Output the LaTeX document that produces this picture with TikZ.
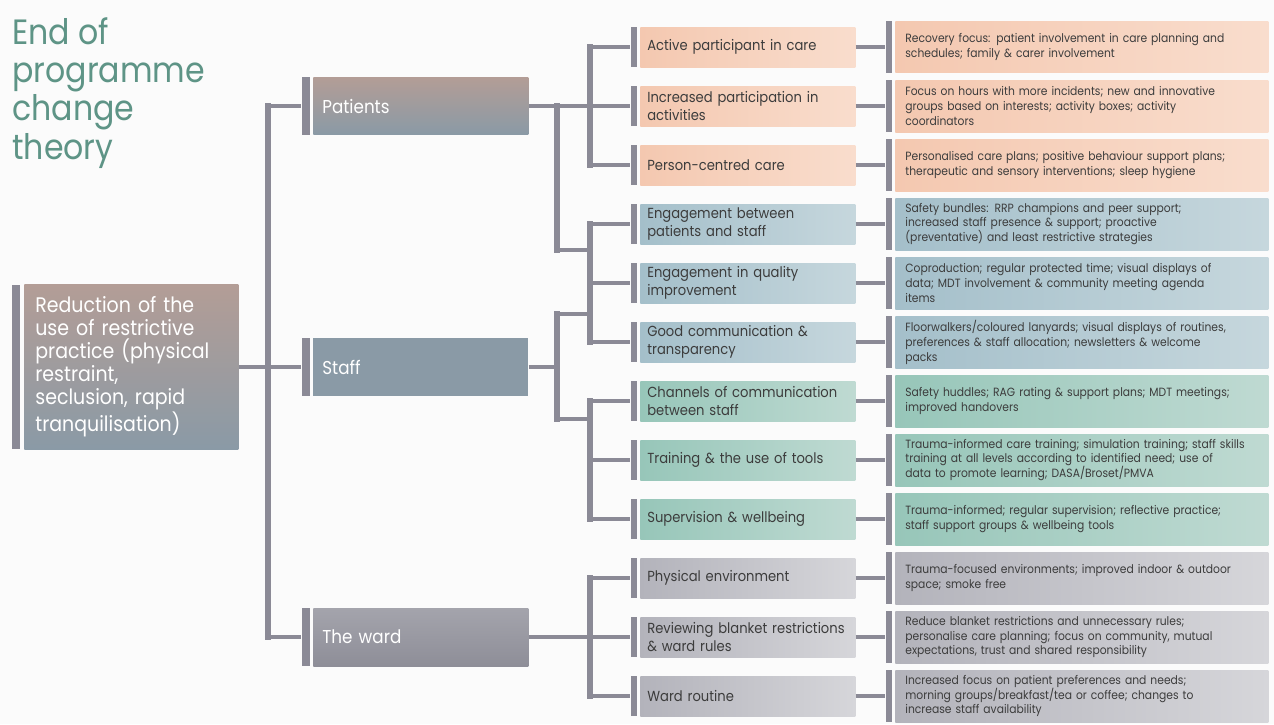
\documentclass[tikz,border=0pt]{standalone}
\usepackage{fontspec}
\setmainfont[FakeStretch=0.9]{Poppins}
\usepackage{tikz}
\usetikzlibrary{positioning}

\definecolor{linegrey}{HTML}{8B8A96}
\definecolor{titleteal}{HTML}{5E9486}
\definecolor{inktext}{HTML}{3C3C3C}
\definecolor{peachL}{HTML}{F4C8B0}
\definecolor{peachR}{HTML}{F9DDCD}
\definecolor{blueL}{HTML}{A4BFCA}
\definecolor{blueR}{HTML}{C6D7DD}
\definecolor{tealL}{HTML}{97C6B9}
\definecolor{tealR}{HTML}{BFDAD2}
\definecolor{greyL}{HTML}{B3B3BB}
\definecolor{greyR}{HTML}{D6D6DA}
\definecolor{mauveTop}{HTML}{B39D96}
\definecolor{slateBot}{HTML}{8A9AA6}
\definecolor{wardTop}{HTML}{A4A4AC}
\definecolor{wardBot}{HTML}{8E8E98}

\begin{document}
\begin{tikzpicture}[x=0.02cm, y=-0.02cm,
    hline/.style = {draw=linegrey, line width=2.2pt},
    vline/.style = {draw=linegrey, line width=3.4pt, line cap=rect},
    bar/.style = {fill=linegrey, inner sep=0pt, minimum width=0.12cm},
    bigbar/.style = {fill=linegrey, inner sep=0pt, minimum width=0.16cm},
    mainbox/.style = {anchor=west, inner xsep=0.18cm, inner ysep=0pt, minimum width=4.3cm, minimum height=1.16cm,
        text width=3.94cm, align=left, text=white, font=\fontsize{10.6}{12.5}\selectfont},
    subbox/.style = {anchor=west, inner xsep=0.14cm, inner ysep=0pt, minimum width=4.3cm, minimum height=0.8cm,
        text width=4.02cm, align=left, text=inktext, font=\fontsize{8.3}{10.2}\selectfont},
    detailbox/.style = {anchor=west, inner xsep=0.2cm, inner ysep=0pt, minimum width=7.46cm, minimum height=1.04cm,
        text width=7.06cm, align=left, text=inktext, font=\fontsize{6.8}{8.5}\selectfont},
    peach/.style = {left color=peachL, right color=peachR},
    bluish/.style = {left color=blueL, right color=blueR},
    teal/.style = {left color=tealL, right color=tealR},
    greyish/.style = {left color=greyL, right color=greyR}]

    \fill[gray!3] (0,0) rectangle (1274,724);
    \useasboundingbox (0,0) rectangle (1274,724);

    \coordinate (trunk) at (268,0);
    \coordinate (split) at (557,0);
    \coordinate (fork) at (590,0);
    \coordinate (joinP) at (590,250);
    \coordinate (joinSa) at (590,314);
    \coordinate (joinSb) at (590,419);

    % title
    \node[anchor=north west, inner sep=0pt, align=left, text=titleteal, font=\fontsize{20}{21.8}\selectfont] (Title) at (12,17)
        {End of\\programme\\change\\theory};

    % goal
    \node[anchor=west, inner xsep=0.22cm, inner ysep=0pt, minimum width=4.28cm, minimum height=3.3cm, text width=3.84cm,
        align=left, text=white, font=\fontsize{12}{13.1}\selectfont, top color=mauveTop, bottom color=slateBot] (Goal) at (24,367)
        {Reduction of the\\use of restrictive\\practice (physical\\restraint,\\seclusion, rapid\\tranquilisation)};
    \node[bigbar, minimum height=3.3cm, left=0.08cm of Goal] (Goalbar) {};

    % level one
    \node[mainbox, top color=mauveTop, bottom color=slateBot] (Patients) at (313,106) {Patients};
    \node[mainbox, fill=slateBot] (Staff) at (313,367) {Staff};
    \node[mainbox, top color=wardTop, bottom color=wardBot] (Ward) at (313,637) {The ward};
    \node[bigbar, minimum height=1.16cm, left=0.06cm of Patients] (Patientsbar) {};
    \node[bigbar, minimum height=1.16cm, left=0.06cm of Staff] (Staffbar) {};
    \node[bigbar, minimum height=1.16cm, left=0.06cm of Ward] (Wardbar) {};

    % level two
    \node[subbox, peach] (s1) at (640,47) {Active participant in care};
    \node[subbox, peach] (s2) at (640,106) {Increased participation in\\activities};
    \node[subbox, peach] (s3) at (640,165) {Person-centred care};
    \node[subbox, bluish] (s4) at (640,224) {Engagement between\\patients and staff};
    \node[subbox, bluish] (s5) at (640,283) {Engagement in quality\\improvement};
    \node[subbox, bluish] (s6) at (640,342) {Good communication \&\\transparency};
    \node[subbox, teal] (s7) at (640,401) {Channels of communication\\between staff};
    \node[subbox, teal] (s8) at (640,460) {Training \& the use of tools};
    \node[subbox, teal] (s9) at (640,519) {Supervision \& wellbeing};
    \node[subbox, greyish] (s10) at (640,578) {Physical environment};
    \node[subbox, greyish] (s11) at (640,637) {Reviewing blanket restrictions\\\& ward rules};
    \node[subbox, greyish] (s12) at (640,696) {Ward routine};

    \node[bar, minimum height=0.8cm, left=0.06cm of s1] (sb1) {};
    \node[bar, minimum height=0.8cm, left=0.06cm of s2] (sb2) {};
    \node[bar, minimum height=0.8cm, left=0.06cm of s3] (sb3) {};
    \node[bar, minimum height=0.8cm, left=0.06cm of s4] (sb4) {};
    \node[bar, minimum height=0.8cm, left=0.06cm of s5] (sb5) {};
    \node[bar, minimum height=0.8cm, left=0.06cm of s6] (sb6) {};
    \node[bar, minimum height=0.8cm, left=0.06cm of s7] (sb7) {};
    \node[bar, minimum height=0.8cm, left=0.06cm of s8] (sb8) {};
    \node[bar, minimum height=0.8cm, left=0.06cm of s9] (sb9) {};
    \node[bar, minimum height=0.8cm, left=0.06cm of s10] (sb10) {};
    \node[bar, minimum height=0.8cm, left=0.06cm of s11] (sb11) {};
    \node[bar, minimum height=0.8cm, left=0.06cm of s12] (sb12) {};

    % level three
    \node[detailbox, peach] (d1) at (895,47) {Recovery focus: patient involvement in care planning and\\schedules; family \& carer involvement};
    \node[detailbox, peach] (d2) at (895,106) {Focus on hours with more incidents; new and innovative\\groups based on interests; activity boxes; activity\\coordinators};
    \node[detailbox, peach] (d3) at (895,165) {Personalised care plans; positive behaviour support plans;\\therapeutic and sensory interventions; sleep hygiene};
    \node[detailbox, bluish] (d4) at (895,224) {Safety bundles: RRP champions and peer support;\\increased staff presence \& support; proactive\\(preventative) and least restrictive strategies};
    \node[detailbox, bluish] (d5) at (895,283) {Coproduction; regular protected time; visual displays of\\data; MDT involvement \& community meeting agenda\\items};
    \node[detailbox, bluish] (d6) at (895,342) {Floorwalkers/coloured lanyards; visual displays of routines,\\preferences \& staff allocation; newsletters \& welcome\\packs};
    \node[detailbox, teal] (d7) at (895,401) {Safety huddles; RAG rating \& support plans; MDT meetings;\\improved handovers};
    \node[detailbox, teal] (d8) at (895,460) {Trauma-informed care training; simulation training; staff skills\\training at all levels according to identified need; use of\\data to promote learning; DASA/Broset/PMVA};
    \node[detailbox, teal] (d9) at (895,519) {Trauma-informed; regular supervision; reflective practice;\\staff support groups \& wellbeing tools};
    \node[detailbox, greyish] (d10) at (895,578) {Trauma-focused environments; improved indoor \& outdoor\\space; smoke free};
    \node[detailbox, greyish] (d11) at (895,637) {Reduce blanket restrictions and unnecessary rules;\\personalise care planning; focus on community, mutual\\expectations, trust and shared responsibility};
    \node[detailbox, greyish] (d12) at (895,696) {Increased focus on patient preferences and needs;\\morning groups/breakfast/tea or coffee; changes to\\increase staff availability};

    \node[bar, minimum height=1.04cm, left=0.06cm of d1] (db1) {};
    \node[bar, minimum height=1.04cm, left=0.06cm of d2] (db2) {};
    \node[bar, minimum height=1.04cm, left=0.06cm of d3] (db3) {};
    \node[bar, minimum height=1.04cm, left=0.06cm of d4] (db4) {};
    \node[bar, minimum height=1.04cm, left=0.06cm of d5] (db5) {};
    \node[bar, minimum height=1.04cm, left=0.06cm of d6] (db6) {};
    \node[bar, minimum height=1.04cm, left=0.06cm of d7] (db7) {};
    \node[bar, minimum height=1.04cm, left=0.06cm of d8] (db8) {};
    \node[bar, minimum height=1.04cm, left=0.06cm of d9] (db9) {};
    \node[bar, minimum height=1.04cm, left=0.06cm of d10] (db10) {};
    \node[bar, minimum height=1.04cm, left=0.06cm of d11] (db11) {};
    \node[bar, minimum height=1.04cm, left=0.06cm of d12] (db12) {};

    % goal to level one
    \draw[hline] (Goal.east) -- (Goal.east -| Staffbar.west);
    \draw[vline] (Patientsbar.west -| trunk) -- (Wardbar.west -| trunk);
    \draw[hline] (Patientsbar.west -| trunk) -- (Patientsbar.west);
    \draw[hline] (Wardbar.west -| trunk) -- (Wardbar.west);

    % level one to level two
    \draw[hline] (Patients.east) -- (Patients.east -| sb2.west);
    \draw[vline] (Patients.east -| split) -- (joinP -| split);
    \draw[hline] (joinP -| split) -- (joinP);
    \draw[hline] (Staff.east) -- (Staff.east -| split);
    \draw[vline] (joinSa -| split) -- (joinSb -| split);
    \draw[hline] (joinSa -| split) -- (joinSa);
    \draw[hline] (joinSb -| split) -- (joinSb);
    \draw[hline] (Ward.east) -- (Ward.east -| sb11.west);

    \draw[vline] (sb1.west -| fork) -- (sb3.west -| fork);
    \draw[vline] (sb4.west -| fork) -- (sb6.west -| fork);
    \draw[vline] (sb7.west -| fork) -- (sb9.west -| fork);
    \draw[vline] (sb10.west -| fork) -- (sb12.west -| fork);
    \draw[hline] (sb1.west -| fork) -- (sb1.west);
    \draw[hline] (sb3.west -| fork) -- (sb3.west);
    \draw[hline] (sb4.west -| fork) -- (sb4.west);
    \draw[hline] (sb5.west -| fork) -- (sb5.west);
    \draw[hline] (sb6.west -| fork) -- (sb6.west);
    \draw[hline] (sb7.west -| fork) -- (sb7.west);
    \draw[hline] (sb8.west -| fork) -- (sb8.west);
    \draw[hline] (sb9.west -| fork) -- (sb9.west);
    \draw[hline] (sb10.west -| fork) -- (sb10.west);
    \draw[hline] (sb12.west -| fork) -- (sb12.west);

    % level two to level three
    \draw[hline] (s1.east) -- (db1.west);
    \draw[hline] (s2.east) -- (db2.west);
    \draw[hline] (s3.east) -- (db3.west);
    \draw[hline] (s4.east) -- (db4.west);
    \draw[hline] (s5.east) -- (db5.west);
    \draw[hline] (s6.east) -- (db6.west);
    \draw[hline] (s7.east) -- (db7.west);
    \draw[hline] (s8.east) -- (db8.west);
    \draw[hline] (s9.east) -- (db9.west);
    \draw[hline] (s10.east) -- (db10.west);
    \draw[hline] (s11.east) -- (db11.west);
    \draw[hline] (s12.east) -- (db12.west);
\end{tikzpicture}
\end{document}
